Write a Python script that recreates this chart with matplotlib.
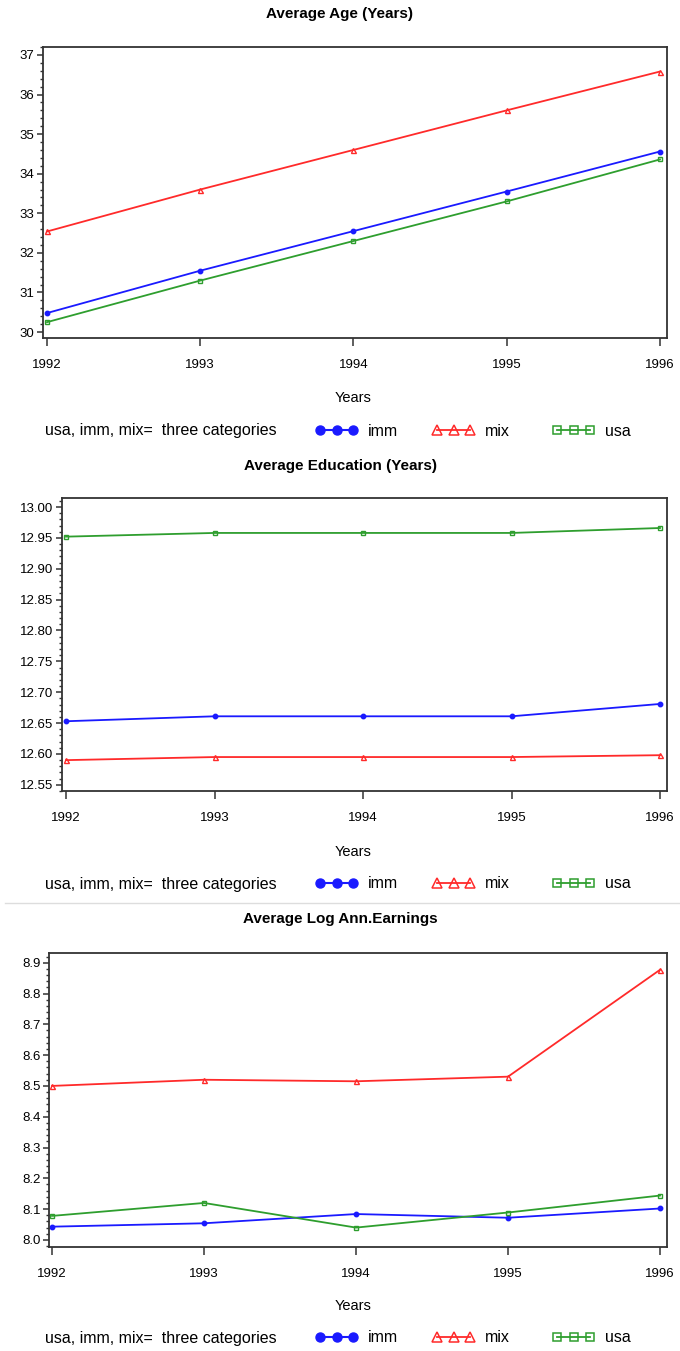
import numpy as np
import matplotlib
matplotlib.use("Agg")
import matplotlib.pyplot as plt
from matplotlib.lines import Line2D
from matplotlib.ticker import AutoMinorLocator, MultipleLocator, FormatStrFormatter

plt.rcParams['font.family'] = ['Liberation Sans', 'DejaVu Sans']

# data
years = [1992, 1993, 1994, 1995, 1996]

age_imm = [30.48, 31.55, 32.55, 33.55, 34.56]
age_mix = [32.54, 33.60, 34.60, 35.60, 36.58]
age_usa = [30.25, 31.30, 32.30, 33.30, 34.36]

edu_imm = [12.653, 12.661, 12.661, 12.661, 12.681]
edu_mix = [12.590, 12.595, 12.595, 12.595, 12.598]
edu_usa = [12.952, 12.958, 12.958, 12.958, 12.966]

earn_imm = [8.043, 8.054, 8.084, 8.072, 8.102]
earn_mix = [8.500, 8.520, 8.515, 8.530, 8.877]
earn_usa = [8.078, 8.120, 8.040, 8.089, 8.144]

titles = ["Average Age (Years)", "Average Education (Years)", "Average Log Ann.Earnings"]
groups = ['imm', 'mix', 'usa']
note = "usa, imm, mix=  three categories"

W, H = 680, 1351
fig = plt.figure(figsize=(W / 100, H / 100), dpi=100)

BLUE = '#1a1aff'
RED = '#ff2a2a'
GREEN = '#2e9e2e'
FRAME = '#333333'


def px(x0, y0, x1, y1):
    # pixel box -> figure fraction rect
    return [x0 / W, 1 - y1 / H, (x1 - x0) / W, (y1 - y0) / H]


panels = [
    dict(box=(43, 47, 667, 338), xlim=(1991.974, 1996.046), ylim=(29.85, 37.2), step=1, fmt='%d',
         data=(age_imm, age_mix, age_usa), ty=14, xly=398, ly=431),
    dict(box=(62, 498, 667, 791), xlim=(1991.973, 1996.047), ylim=(12.540, 13.0146), step=0.05, fmt='%.2f',
         data=(edu_imm, edu_mix, edu_usa), ty=466, xly=852, ly=884),
    dict(box=(49, 953, 667, 1247), xlim=(1991.98, 1996.046), ylim=(7.977, 8.9315), step=0.1, fmt='%.1f',
         data=(earn_imm, earn_mix, earn_usa), ty=919, xly=1306, ly=1338),
]

# legend entry start positions (px)
leg_x = [315, 432, 552]

for i, p in enumerate(panels):
    ax = fig.add_axes(px(*p['box']))
    imm, mix, usa = p['data']
    ax.plot(years, imm, color=BLUE, lw=1.3, marker='o', ms=3.2, mfc=BLUE, mec=BLUE)
    ax.plot(years, mix, color=RED, lw=1.3, marker='^', ms=3.6, mfc='none', mec=RED, mew=1.0)
    ax.plot(years, usa, color=GREEN, lw=1.3, marker='s', ms=3.4, mfc='none', mec=GREEN, mew=1.0)

    ax.set_xlim(*p['xlim'])
    ax.set_ylim(*p['ylim'])
    ax.set_xticks(years)
    ax.set_xticklabels([str(y) for y in years])
    ax.yaxis.set_major_locator(MultipleLocator(p['step']))
    ax.yaxis.set_major_formatter(FormatStrFormatter(p['fmt']))
    ax.yaxis.set_minor_locator(AutoMinorLocator(5))

    for s in ax.spines.values():
        s.set_color(FRAME)
        s.set_linewidth(1.3)
    ax.tick_params(axis='x', direction='out', length=6, width=1.1, color=FRAME,
                   labelsize=9.5, pad=9)
    ax.tick_params(axis='y', which='major', direction='out', length=4, width=1.1,
                   color=FRAME, labelsize=9.5, pad=2)
    ax.tick_params(axis='y', which='minor', direction='out', length=2, width=1.0, color=FRAME)

    fig.text(0.5, 1 - p['ty'] / H, titles[i], ha='center', va='center',
             fontsize=11, fontweight='bold')
    fig.text(353 / W, 1 - p['xly'] / H, "Years", ha='center', va='center', fontsize=10.5)
    fig.text(45 / W, 1 - p['ly'] / H, note, ha='left', va='center', fontsize=11.5)

    handles = [
        Line2D([], [], color=BLUE, lw=1.5, marker='o', ms=6.5, mfc=BLUE, mec=BLUE),
        Line2D([], [], color=RED, lw=1.3, marker='^', ms=6.5, mfc='none', mec=RED, mew=1.1),
        Line2D([], [], color=GREEN, lw=1.3, marker='s', ms=6, mfc='none', mec=GREEN, mew=1.1),
    ]
    for h, lab, x in zip(handles, groups, leg_x):
        fig.legend([h], [lab], loc='center left',
                   bbox_to_anchor=(x / W, 1 - p['ly'] / H), numpoints=3,
                   frameon=False, fontsize=11.5, handlelength=2.7, handletextpad=0.6,
                   borderpad=0, borderaxespad=0)

# thin separator between the second and third chart
fig.add_artist(Line2D([5 / W, 1], [1 - 903 / H, 1 - 903 / H], color='#dddddd', lw=1.0))

fig.savefig('out.png', dpi=100, facecolor='white')
